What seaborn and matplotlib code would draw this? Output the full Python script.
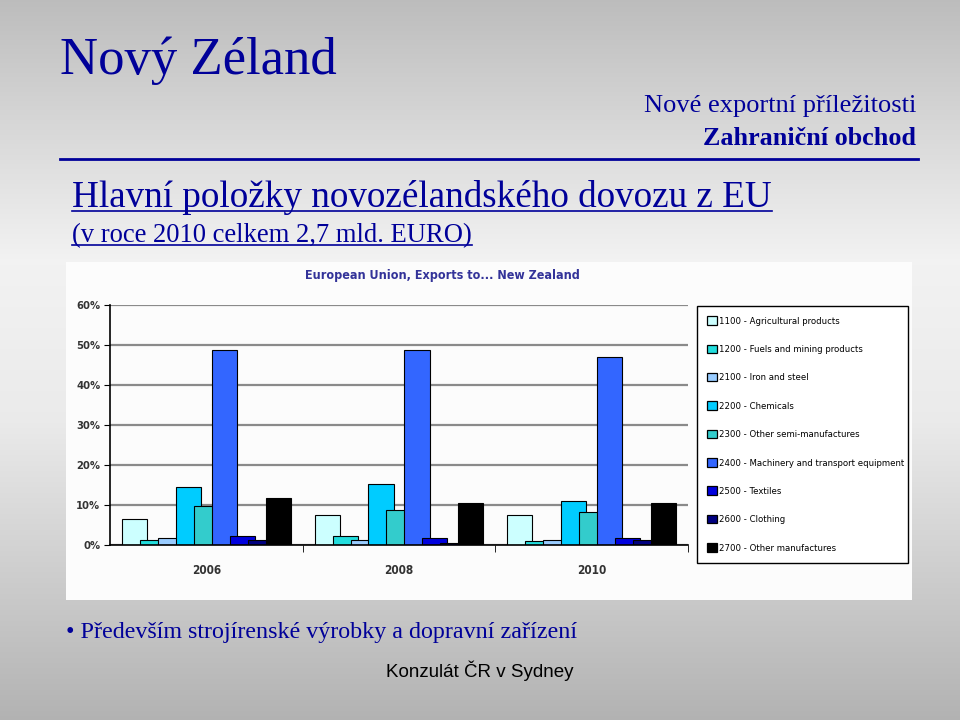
import numpy as np
import pandas as pd
import matplotlib
matplotlib.use("Agg")
import matplotlib.pyplot as plt
import seaborn as sns
from matplotlib.patches import Rectangle, Patch
from matplotlib.lines import Line2D
from matplotlib.ticker import FuncFormatter, FixedLocator
from matplotlib.font_manager import FontProperties

# ---------------- data ----------------
years = ["2006", "2008", "2010"]
categories = [
    "1100 - Agricultural products",
    "1200 - Fuels and mining products",
    "2100 - Iron and steel",
    "2200 - Chemicals",
    "2300 - Other semi-manufactures",
    "2400 - Machinery and transport equipment",
    "2500 - Textiles",
    "2600 - Clothing",
    "2700 - Other manufactures",
]
agricultural = [6.4, 7.6, 7.6]
fuels_mining = [1.2, 2.3, 1.0]
iron_steel = [1.8, 1.2, 1.2]
chemicals = [14.4, 15.2, 11.1]
other_semi = [9.8, 8.8, 8.2]
machinery = [48.8, 48.8, 47.1]
textiles = [2.3, 1.7, 1.7]
clothing = [1.2, 0.6, 1.2]
other_manuf = [11.7, 10.6, 10.6]
colors = ["#CCFFFF", "#22DDDD", "#99CCFF", "#00CCFF", "#33CCCC",
          "#3366FF", "#0000DD", "#000080", "#000000"]

series = [agricultural, fuels_mining, iron_steel, chemicals, other_semi,
          machinery, textiles, clothing, other_manuf]
rows = []
for cat, vals in zip(categories, series):
    for y, v in zip(years, vals):
        rows.append({"year": y, "category": cat, "share": v})
df = pd.DataFrame(rows)

# ---------------- figure ----------------
W, H = 960, 720
fig = plt.figure(figsize=(9.6, 7.2), dpi=100)

def fx(x):
    return x / W

def fy(y):
    return 1 - y / H

# slide background gradient
bg = fig.add_axes([0, 0, 1, 1], zorder=-10)
yy = np.linspace(0, H, 400)
vals = np.interp(yy, [0, 120, 260, 420, 720], [0.74, 0.84, 0.95, 0.92, 0.70])
grad = np.repeat(vals[:, None], 2, axis=1)
bg.imshow(np.dstack([grad, grad, grad]), aspect="auto", extent=[0, 1, 0, 1],
          origin="upper")
bg.axis("off")

# chart picture background
fig.patches.append(Rectangle((fx(66), fy(600)), fx(912) - fx(66), fy(262) - fy(600),
                             transform=fig.transFigure, facecolor="#FCFCFC",
                             edgecolor="none", zorder=-5))

navy = "#000099"
serif = ["Liberation Serif", "DejaVu Serif"]


def narrow(size, weight="normal"):
    return FontProperties(family="DejaVu Sans", stretch="condensed",
                          size=size, weight=weight)


fig.text(fx(60), fy(74), "Nový Zéland", family=serif, fontsize=38, color=navy,
         va="baseline", ha="left")
fig.text(fx(916), fy(112), "Nové exportní příležitosti", family=serif, fontsize=19,
         color=navy, va="baseline", ha="right")
fig.text(fx(916), fy(145), "Zahraniční obchod", family=serif, fontsize=18.8,
         weight="bold", color=navy, va="baseline", ha="right")
fig.add_artist(Line2D([fx(60), fx(918)], [fy(159), fy(159)], color=navy, lw=2,
                      transform=fig.transFigure))

h1 = fig.text(fx(72), fy(207), "Hlavní položky novozélandského dovozu z EU",
              family=serif, fontsize=26.7, color=navy, va="baseline", ha="left")
h2 = fig.text(fx(72), fy(242), "(v roce 2010 celkem 2,7 mld. EURO)",
              family=serif, fontsize=19.2, color=navy, va="baseline", ha="left")

fig.text(fx(66), fy(638), "• Především strojírenské výrobky a dopravní zařízení",
         family=serif, fontsize=17.3, color=navy, va="baseline", ha="left")
fig.text(fx(480), fy(677), "Konzulát ČR v Sydney", family=["Liberation Sans", "DejaVu Sans"],
         fontsize=13.5, color="black", va="baseline", ha="center")

# chart title
fig.text(fx(442), fy(276), "European Union, Exports to... New Zealand",
         fontproperties=narrow(9, "bold"), color="#333399", va="center", ha="center")

# ---------------- bar chart ----------------
ax = fig.add_axes([fx(110), fy(545), fx(688) - fx(110), fy(305) - fy(545)])
ax.set_facecolor("none")
sns.barplot(data=df, x="year", y="share", hue="category", hue_order=categories,
            order=years, palette=colors, saturation=1, width=0.84,
            edgecolor="black", linewidth=0.8, ax=ax, legend=False)

# Excel-like overlapping bars: widen each bar around its centre
for p in ax.patches:
    cx = p.get_x() + p.get_width() / 2
    nw = 0.13
    p.set_x(cx - nw / 2)
    p.set_width(nw)

ax.set_xlim(-0.5, 2.5)
ax.set_ylim(0, 60)
ax.yaxis.set_major_locator(FixedLocator([0, 10, 20, 30, 40, 50, 60]))
ax.yaxis.set_major_formatter(FuncFormatter(lambda v, _: f"{int(v)}%"))
ax.grid(axis="y", color="#8A8A8A", lw=1.6, zorder=0)
ax.set_axisbelow(True)
ax.set_xlabel("")
ax.set_ylabel("")
for s in ["top", "right"]:
    ax.spines[s].set_visible(False)
for s in ["left", "bottom"]:
    ax.spines[s].set_color("black")
    ax.spines[s].set_linewidth(1.2)
ax.tick_params(axis="x", which="major", length=0, pad=14)
ax.xaxis.set_minor_locator(FixedLocator([0.5, 1.5, 2.5]))
ax.tick_params(axis="x", which="minor", length=5, direction="out", color="black")
ax.tick_params(axis="y", length=4, direction="out", color="black", pad=3)
for lab in ax.get_xticklabels():
    lab.set_fontproperties(narrow(8.5, "bold"))
    lab.set_color("#333333")
for lab in ax.get_yticklabels():
    lab.set_fontproperties(narrow(8, "bold"))
    lab.set_color("#333333")

# legend
handles = [Patch(facecolor=c, edgecolor="black", lw=0.9) for c in colors]
leg = fig.legend(handles, categories, loc="upper left",
                 bbox_to_anchor=(fx(697), fy(306), fx(908) - fx(697), 0.0001),
                 mode="expand", frameon=True, fancybox=False, edgecolor="black",
                 facecolor="white", framealpha=1,
                 prop=narrow(6.8),
                 handlelength=1.0, handleheight=1.0, handletextpad=0.25,
                 labelspacing=2.0, borderpad=1.1, borderaxespad=0)
leg.get_frame().set_linewidth(1.0)

# underline headings
fig.canvas.draw()
r = fig.canvas.get_renderer()
for t, off in [(h1, 4), (h2, 3)]:
    bb = t.get_window_extent(r)
    y0 = t.get_position()[1]
    fig.add_artist(Line2D([bb.x0 / fig.bbox.width, bb.x1 / fig.bbox.width],
                          [y0 - off / H, y0 - off / H], color=navy, lw=1.2,
                          transform=fig.transFigure))

fig.savefig("out.png", dpi=100)
